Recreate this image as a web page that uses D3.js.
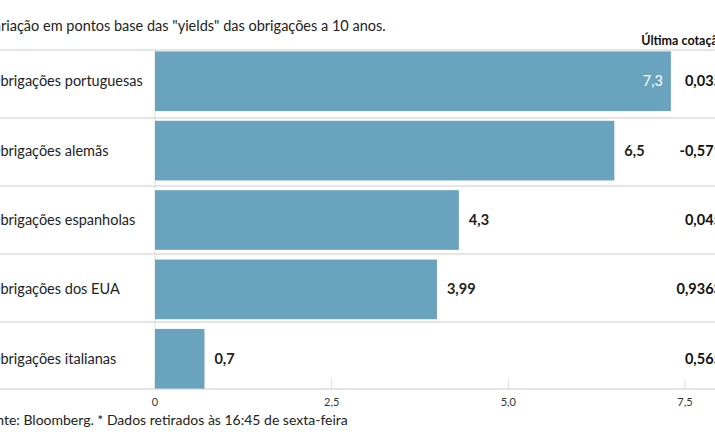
<!DOCTYPE html><html><head><meta charset="utf-8"><script src="https://cdn.jsdelivr.net/npm/d3@7"></script>
<style>body{margin:0;background:#fff}text{font-family:Lato,"Open Sans",sans-serif}</style></head><body><svg width="715" height="445"></svg>
<script>
const categories=["Obrigações portuguesas","Obrigações alemãs","Obrigações espanholas","Obrigações dos EUA","Obrigações italianas"];
const values=[7.3,6.5,4.3,3.99,0.7];
const valueLabels=["7,3","6,5","4,3","3,99","0,7"];
const lastQuotes=["0,035","-0,571","0,045","0,9363","0,565"];
const ticks=[0,2.5,5,7.5];
const svg=d3.select("svg");
const x=d3.scaleLinear().domain([0,7.5]).range([155,685]);
const y=d3.scaleBand().domain(categories).range([50,390]).paddingInner(0.14).paddingOuter(0.02);
const step=340/5;
svg.append("text").attr("x",-15).attr("y",31).attr("font-size",14.5).attr("fill","#222").text('Variação em pontos base das "yields" das obrigações a 10 anos.');
svg.append("text").attr("x",725).attr("y",45).attr("text-anchor","end").attr("font-size",12.5).attr("font-weight","bold").attr("fill","#111").text("Última cotação");
categories.forEach((c,i)=>{svg.append("line").attr("x1",0).attr("x2",715).attr("y1",50+i*step).attr("y2",50+i*step).attr("stroke","#ddd").attr("stroke-width",1.5);});
svg.append("line").attr("x1",x(0)).attr("x2",x(0)).attr("y1",50).attr("y2",390).attr("stroke","#ddd");
svg.append("line").attr("x1",0).attr("x2",715).attr("y1",389).attr("y2",389).attr("stroke","#ddd").attr("stroke-width",1.5);
ticks.forEach(t=>{svg.append("line").attr("x1",x(t)).attr("x2",x(t)).attr("y1",379).attr("y2",389).attr("stroke","#ddd");
svg.append("text").attr("x",x(t)).attr("y",406).attr("text-anchor","middle").attr("font-size",11).attr("fill","#333").text(d3.format(".1f")(t).replace(".",",").replace(/^0,0$/,"0"));});
categories.forEach((c,i)=>{
 const yy=y(c),h=y.bandwidth();
 svg.append("rect").attr("x",x(0)).attr("y",yy).attr("width",x(values[i])-x(0)).attr("height",h).attr("fill","#6aa3be");
 svg.append("text").attr("x",-11).attr("y",yy+h/2+5).attr("font-size",14.5).attr("fill","#222").text(c);
 const inside=i===0;
 svg.append("text").attr("x",inside?x(values[i])-8:x(values[i])+10).attr("y",yy+h/2+5).attr("text-anchor",inside?"end":"start").attr("font-size",14.5).attr("font-weight",inside?"normal":"bold").attr("fill",inside?"#fff":"#222").text(valueLabels[i]);
 svg.append("text").attr("x",722).attr("y",yy+h/2+5).attr("text-anchor","end").attr("font-size",14.5).attr("font-weight","bold").attr("fill","#111").text(lastQuotes[i]);
});
svg.append("text").attr("x",-19).attr("y",425).attr("font-size",14).attr("fill","#222").text("Fonte: Bloomberg.  * Dados retirados às 16:45 de sexta-feira");
</script></body></html>
